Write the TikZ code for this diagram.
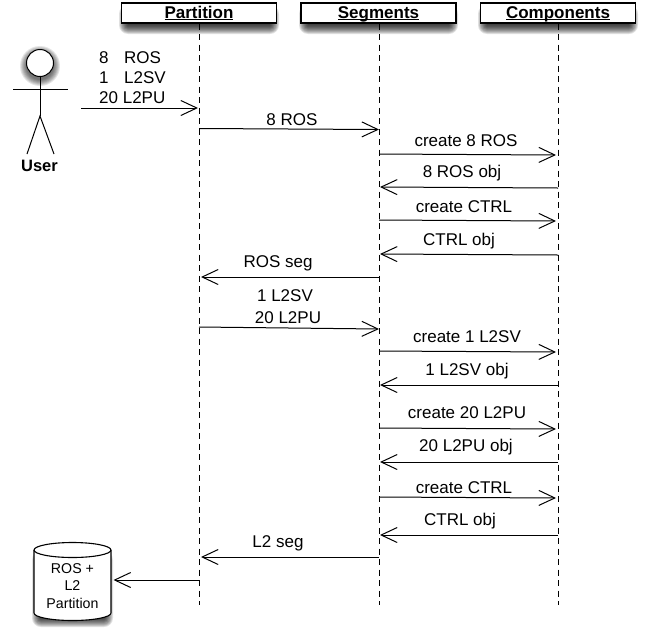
\documentclass[tikz,border=0pt]{standalone}
\usepackage{fontspec}
\setmainfont{Liberation Sans}
\usetikzlibrary{arrows.meta}
\tikzset{
  headbox/.style={draw=black,fill=white,line width=1.1pt,minimum width=155pt,minimum height=20pt,inner sep=0pt,text height=14pt,text depth=4pt,font=\fontsize{17}{18}\selectfont\bfseries},
  lifeline/.style={draw=black,line width=1pt,dash pattern=on 6pt off 4.5pt},
  msg/.style={draw=black,line width=1pt,-{Straight Barb[length=16pt,width=15pt,line width=1pt]}},
  lbl/.style={anchor=base,inner sep=0pt,font=\fontsize{17}{20}\selectfont},
  actorline/.style={draw=black,line width=1pt}
}
\newcommand{\softrect}[4]{%
  \foreach \g in {9,8,...,0}{
    \fill[black,opacity=0.12,rounded corners=\g pt] (#1-\g,#2-\g) rectangle (#3+\g,#4+\g);
  }}
\newcommand{\headlabel}[1]{\underline{\smash{#1}}}
\begin{document}
\begin{tikzpicture}[x=1pt,y=-1pt]
\useasboundingbox (0,0) rectangle (647,627);
\fill[white] (0,0) rectangle (647,627);
% shadows
\softrect{128}{14}{270}{25}
\softrect{308}{14}{449}{25}
\softrect{487}{14}{629}{25}
\softrect{41}{560}{104}{618}
\foreach \g in {7,6,...,1}{\fill[black,opacity=0.1] (40,66) circle ({13+\g});}
% lifelines
\coordinate (pEnd) at (199,605);
\coordinate (sEnd) at (379,605);
\coordinate (cEnd) at (558,605);
% heads
\node[headbox] (partition) at (199,13) {\headlabel{Partition}};
\node[headbox] (segments) at (378.5,13) {\headlabel{Segments}};
\node[headbox] (components) at (558,13) {\headlabel{Components}};
\draw[lifeline] (partition.south) -- (pEnd);
\draw[lifeline] (segments.south -| sEnd) -- (sEnd);
\draw[lifeline] (components.south) -- (cEnd);
% actor
\node[circle,draw=black,fill=white,line width=1pt,minimum size=27pt,inner sep=0pt] (userhead) at (40,63) {};
\coordinate (hip) at (40,116);
\coordinate (armL) at (13,89);
\coordinate (armR) at (68,89);
\coordinate (legL) at (27,154);
\coordinate (legR) at (54,154);
\draw[actorline] (userhead.south) -- (hip);
\draw[actorline] (armL) -- (armR);
\draw[actorline] (legL) -- (hip) -- (legR);
\node[anchor=base,inner sep=0pt,font=\fontsize{16.5}{18}\selectfont\bfseries] (user) at (39.5,171) {User};
% database
\draw[black,fill=white,line width=1.1pt] (34,550) arc[x radius=38.5,y radius=-7.5,start angle=180,end angle=0] -- (111,613) arc[x radius=38.5,y radius=-7.5,start angle=0,end angle=-180] -- cycle;
\draw[black,line width=1.1pt] (34,550) arc[x radius=38.5,y radius=-7.5,start angle=180,end angle=360];
\node[minimum width=77pt,minimum height=77pt,inner sep=0pt,outer sep=0pt] (db) at (72.5,580) {};
\node[align=center,inner sep=0pt,font=\fontsize{14.2}{17.5}\selectfont] (dbtext) at (72.5,586) {ROS +\\L2\\Partition};
% endpoints
\coordinate (u0) at (81,108);   \coordinate (p0) at (198,108);
\coordinate (p1) at (199,128.5);\coordinate (s1) at (379,129.5);
\coordinate (s2) at (379,154);  \coordinate (c2) at (556,155);
\coordinate (c3) at (558,188);  \coordinate (s3) at (380,187);
\coordinate (s4) at (379,220);  \coordinate (c4) at (556,221);
\coordinate (c5) at (558,255);  \coordinate (s5) at (380,254);
\coordinate (s6) at (379,277);  \coordinate (p6) at (201,277);
\coordinate (p7) at (199,327);  \coordinate (s7) at (379,329);
\coordinate (s8) at (379,351);  \coordinate (c8) at (556,352);
\coordinate (c9) at (558,385);  \coordinate (s9) at (380,385);
\coordinate (s10) at (379,428); \coordinate (c10) at (556,429);
\coordinate (c11) at (558,462); \coordinate (s11) at (380,462);
\coordinate (s12) at (379,497); \coordinate (c12) at (556,498);
\coordinate (c13) at (558,535); \coordinate (s13) at (380,535);
\coordinate (s14) at (379,557); \coordinate (p14) at (201,557);
\coordinate (p15) at (199,580);
\draw[msg] (u0) -- (p0);
\draw[msg] (p1) -- (s1);
\draw[msg] (s2) -- (c2);
\draw[msg] (c3) -- (s3);
\draw[msg] (s4) -- (c4);
\draw[msg] (c5) -- (s5);
\draw[msg] (s6) -- (p6);
\draw[msg] (p7) -- (s7);
\draw[msg] (s8) -- (c8);
\draw[msg] (c9) -- (s9);
\draw[msg] (s10) -- (c10);
\draw[msg] (c11) -- (s11);
\draw[msg] (s12) -- (c12);
\draw[msg] (c13) -- (s13);
\draw[msg] (s14) -- (p14);
\draw[msg,shorten >=2.5pt] (p15) -- (db.east);
% labels
\node[lbl,anchor=base west] (l0a) at (99,63) {8};
\node[lbl,anchor=base west] (l0b) at (124,63) {ROS};
\node[lbl,anchor=base west] (l0c) at (99,83) {1};
\node[lbl,anchor=base west] (l0d) at (124,83) {L2SV};
\node[lbl,anchor=base west] (l0e) at (99,103) {20 L2PU};
\node[lbl] (l1) at (292,125) {8 ROS};
\node[lbl] (l2) at (466,146) {create 8 ROS};
\node[lbl] (l3) at (462,177) {8 ROS obj};
\node[lbl] (l4) at (464,212) {create CTRL};
\node[lbl] (l5) at (459,245) {CTRL obj};
\node[lbl] (l6) at (278,267) {ROS seg};
\node[lbl] (l7a) at (285,301) {1 L2SV};
\node[lbl] (l7b) at (288,323) {20 L2PU};
\node[lbl] (l8) at (467,342) {create 1 L2SV};
\node[lbl] (l9) at (467,375) {1 L2SV obj};
\node[lbl] (l10) at (467,418) {create 20 L2PU};
\node[lbl] (l11) at (466,451) {20 L2PU obj};
\node[lbl] (l12) at (464,493) {create CTRL};
\node[lbl] (l13) at (460,525) {CTRL obj};
\node[lbl] (l14) at (278,547) {L2 seg};
\end{tikzpicture}
\end{document}
